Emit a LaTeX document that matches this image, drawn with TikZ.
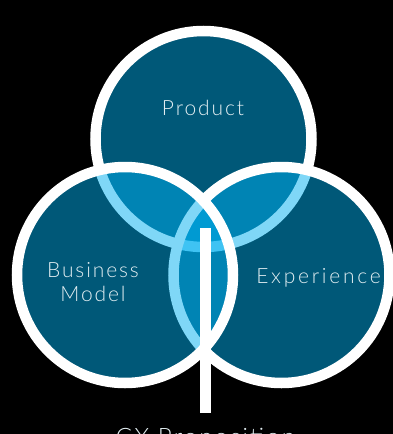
\documentclass[tikz,border=0pt]{standalone}
\usepackage{fontspec}
\newfontfamily\labelfont{Lato Light}[LetterSpace=9]
\newfontfamily\widefont{Lato Light}[LetterSpace=13]
\usepackage{tikz}

\definecolor{venn}{RGB}{0,176,240}
\definecolor{ink}{RGB}{226,238,242}

\begin{document}
\begin{tikzpicture}[x=1pt,y=-1pt]
\tikzstyle{ring}=[circle,draw=white,line width=10.5pt,fill=venn,fill opacity=0.5,minimum size=216pt,inner sep=0pt]
\tikzstyle{tag}=[text=ink,font=\labelfont\fontsize{21}{24}\selectfont,align=center,inner sep=0pt]
\tikzstyle{stem}=[draw=white,line width=10.5pt]
\useasboundingbox (0,0) rectangle (392,434);
\fill[black] (-20,-20) rectangle (412,454);
% top first, then right, then left on top of both
\foreach \name/\point in {
	product/{203.5,139},
	experience/{281.5,275},
	business/{125,275}}
	\node[ring] (\name) at (\point) {};
\node[tag,anchor=base] (productlabel) at (203,115) {Product};
\node[tag,anchor=base] (businesslabel) at (93,301) {Business\\Model};
\node[tag,font=\widefont\fontsize{21}{24}\selectfont,anchor=base] (experiencelabel) at (318.5,283) {Experience};
\coordinate (core) at (205.5,228);
\node[tag,font=\labelfont\fontsize{24}{28}\selectfont,anchor=north,outer sep=15pt] (cx) at (205.5,413) {CX Proposition};
\draw[stem] (core) -- (cx.north);
\end{tikzpicture}
\end{document}
